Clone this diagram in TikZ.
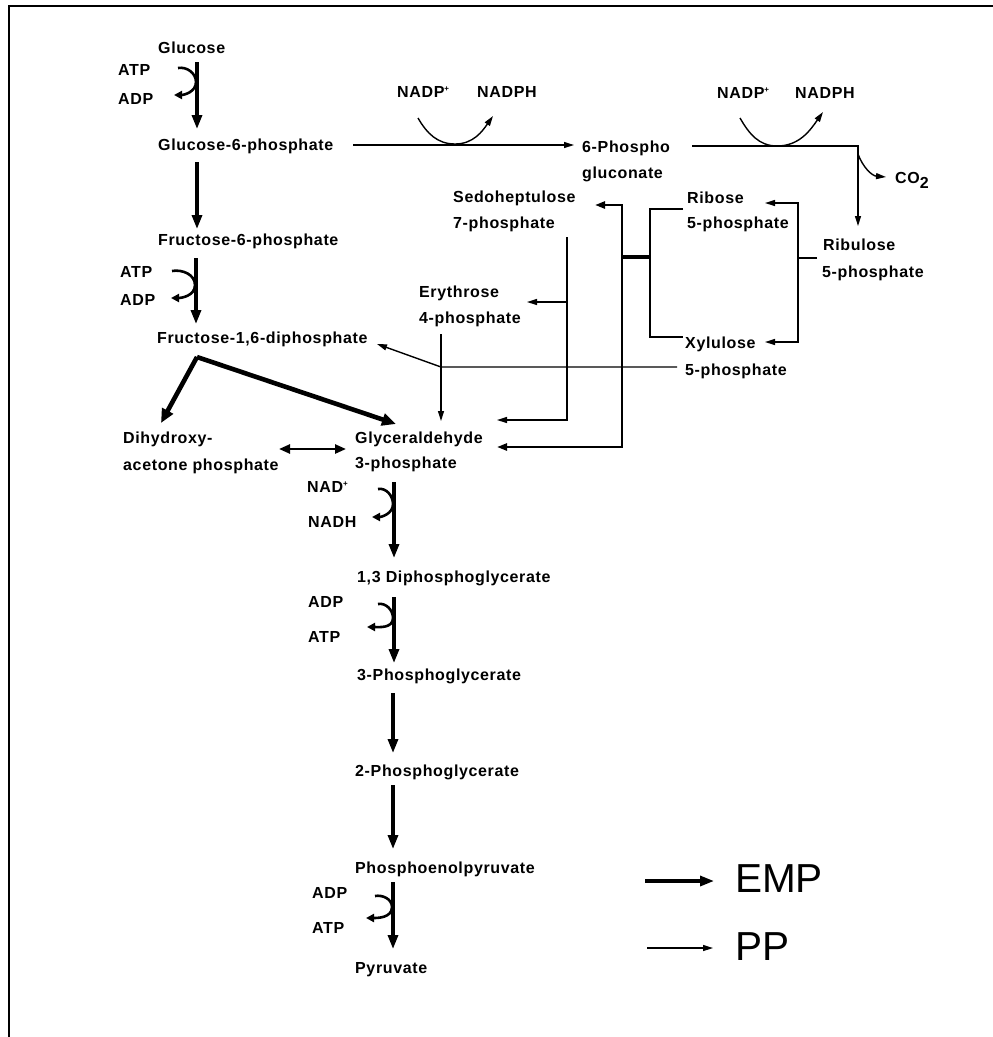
\documentclass[tikz,border=0pt]{standalone}
\usepackage{fontspec}
\setmainfont{Liberation Sans}[LetterSpace=4]
\newfontfamily\legendfont{Liberation Sans}
\usetikzlibrary{arrows.meta}
\newcommand\lblfont{\fontsize{16}{18}\selectfont\bfseries}
\newcommand\supplus{\raisebox{6pt}{\fontsize{8}{8}\selectfont +}}
\begin{document}
\begin{tikzpicture}[x=1pt,y=-1pt,
  lbl/.style={anchor=base west, inner sep=0pt, font=\lblfont},
  legend/.style={anchor=base west, inner sep=0pt, font=\legendfont\fontsize{40.5}{44}\selectfont},
  emp/.style={line width=3.2pt, -{Triangle[length=14pt,width=10pt]}},
  empdiag/.style={line width=4.6pt, -{Triangle[length=14pt,width=12pt]}},
  cof/.style={line width=2.6pt, -{Triangle[length=8pt,width=8pt]}},
  ppa/.style={line width=1.4pt, -{Triangle[length=10pt,width=6pt]}},
  ppl/.style={line width=1.4pt},
  ppthick/.style={line width=2.4pt, -{Triangle[length=10pt,width=7pt]}},
]
\useasboundingbox (0,0) rectangle (993,1037);
\draw[line width=2.2pt] (9,1037) -- (9,6) -- (993,6);

% ---------- labels ----------
\node[lbl] (glc) at (158,53.5) {Glucose};
\node[lbl] (atpA) at (118,75.5) {ATP};
\node[lbl] (adpA) at (118,104.5) {ADP};
\node[lbl] (g6p) at (158,150.5) {Glucose-6-phosphate};
\node[lbl] (f6p) at (158,245.5) {Fructose-6-phosphate};
\node[lbl] (atpB) at (120,277.5) {ATP};
\node[lbl] (adpB) at (120,305.5) {ADP};
\node[lbl] (f16) at (157,343.5) {Fructose-1,6-diphosphate};
\node[lbl] (dhap1) at (123,443.5) {Dihydroxy-};
\node[lbl] (dhap2) at (123,470.5) {acetone phosphate};
\node[lbl] (gap1) at (355,443.5) {Glyceraldehyde};
\node[lbl] (gap2) at (355,468.5) {3-phosphate};
\node[lbl] (nad) at (307,492.5) {NAD\supplus};
\node[lbl] (nadh) at (308,527.5) {NADH};
\node[lbl] (dpg) at (357,582.5) {1,3 Diphosphoglycerate};
\node[lbl] (adpD) at (308,607.5) {ADP};
\node[lbl] (atpD) at (308,642.5) {ATP};
\node[lbl] (pg3) at (357,680.5) {3-Phosphoglycerate};
\node[lbl] (pg2) at (355,776.5) {2-Phosphoglycerate};
\node[lbl] (pep) at (355,873.5) {Phosphoenolpyruvate};
\node[lbl] (adpE) at (312,898.5) {ADP};
\node[lbl] (atpE) at (312,933.5) {ATP};
\node[lbl] (pyr) at (355,973.5) {Pyruvate};
\node[lbl] (nadpA) at (397,97.5) {NADP\supplus};
\node[lbl] (nadphA) at (477,97.5) {NADPH};
\node[lbl] (pgl1) at (582,152.5) {6-Phospho};
\node[lbl] (pgl2) at (582,178.5) {gluconate};
\node[lbl] (nadpB) at (717,98.5) {NADP\supplus};
\node[lbl] (nadphB) at (795,98.5) {NADPH};
\node[lbl] (co2) at (895,183.5) {CO\raisebox{-5pt}{2}};
\node[lbl] (rib1) at (687,203.5) {Ribose};
\node[lbl] (rib2) at (687,228.5) {5-phosphate};
\node[lbl] (ribu1) at (823,250.5) {Ribulose};
\node[lbl] (ribu2) at (822,277.5) {5-phosphate};
\node[lbl] (xyl1) at (685,348.5) {Xylulose};
\node[lbl] (xyl2) at (685,375.5) {5-phosphate};
\node[lbl] (sed1) at (453,202.5) {Sedoheptulose};
\node[lbl] (sed2) at (453,228.5) {7-phosphate};
\node[lbl] (ery1) at (419,297.5) {Erythrose};
\node[lbl] (ery2) at (419,323.5) {4-phosphate};
\node[legend] (emp) at (735,892) {EMP};
\node[legend] (pp) at (735,960) {PP};

% ---------- coordinates ----------
\coordinate (a0) at (197,62);  \coordinate (a1) at (197,129);
\coordinate (a2) at (197,162); \coordinate (a3) at (197,229);
\coordinate (a4) at (196,258); \coordinate (a5) at (196,324);
\coordinate (apex) at (197,357);
\coordinate (dhapT) at (161,423); \coordinate (gapT) at (396,424);
\coordinate (dblL) at (279,449); \coordinate (dblR) at (346,449);
\coordinate (b0) at (394,482); \coordinate (b1) at (394,558);
\coordinate (b2) at (394,597); \coordinate (b3) at (394,663);
\coordinate (b4) at (393,693); \coordinate (b5) at (393,753);
\coordinate (b6) at (393,785); \coordinate (b7) at (393,849);
\coordinate (b8) at (393,882); \coordinate (b9) at (393,949);
% cofactor curves
\coordinate (cA1) at (178,68); \coordinate (cAm) at (196,82); \coordinate (cA2) at (174,95);
\coordinate (cB1) at (172,271); \coordinate (cBm) at (195,285); \coordinate (cB2) at (171,298);
\coordinate (cC1) at (378,489); \coordinate (cCm) at (393,504); \coordinate (cC2) at (372,517);
\coordinate (cD1) at (378,604); \coordinate (cDm) at (393,618); \coordinate (cD2) at (367,627);
\coordinate (cE1) at (375,896); \coordinate (cEm) at (392,907); \coordinate (cE2) at (366,918);
% NADP arcs
\coordinate (nA1) at (418,118); \coordinate (nAm) at (455,144); \coordinate (nA2) at (493,116);
\coordinate (nB1) at (740,118); \coordinate (nBm) at (777,146); \coordinate (nB2) at (823,112);
% PP routes
\coordinate (g6pR) at (353,145); \coordinate (pglT) at (574,145);
\coordinate (pglR) at (692,146); \coordinate (oxC) at (858,146); \coordinate (ribuT) at (858,226);
\coordinate (co2S) at (858,154); \coordinate (co2T) at (886,177);
\coordinate (ribuL) at (817,258); \coordinate (split) at (798,258);
\coordinate (ribT) at (765,203); \coordinate (xylT) at (765,342);
\coordinate (ribIn) at (683,209); \coordinate (brT) at (650,209);
\coordinate (brB) at (650,337); \coordinate (xylIn) at (683,337);
\coordinate (brM) at (650,257); \coordinate (tkM) at (622,257);
\coordinate (sedT) at (595,205); \coordinate (gapT2) at (497,447);
\coordinate (sedS) at (567,237); \coordinate (gapT1) at (497,420);
\coordinate (sedE) at (567,302); \coordinate (eryT) at (527,302);
\coordinate (eryS) at (441,334); \coordinate (eryG) at (441,421);
\coordinate (xylOut) at (677,367); \coordinate (junc) at (441,367);
\coordinate (f16T) at (377,344);
\coordinate (lgE1) at (645,881); \coordinate (lgE2) at (714,881);
\coordinate (lgP1) at (647,948); \coordinate (lgP2) at (713,948);

% ---------- EMP ----------
\draw[emp] (a0) -- (a1);
\draw[emp] (a2) -- (a3);
\draw[emp] (a4) -- (a5);
\draw[empdiag] (apex) -- (dhapT);
\draw[empdiag] (apex) -- (gapT);
\draw[line width=2.4pt, {Triangle[length=11pt,width=9pt]}-{Triangle[length=11pt,width=9pt]}] (dblL) -- (dblR);
\draw[emp] (b0) -- (b1);
\draw[emp] (b2) -- (b3);
\draw[emp] (b4) -- (b5);
\draw[emp] (b6) -- (b7);
\draw[emp] (b8) -- (b9);
\draw[cof] (cA1) to[out=10,in=90] (cAm) to[out=-90,in=0] (cA2);
\draw[cof] (cB1) to[out=10,in=90] (cBm) to[out=-90,in=0] (cB2);
\draw[cof] (cC1) to[out=10,in=90] (cCm) to[out=-90,in=0] (cC2);
\draw[cof] (cD1) to[out=10,in=90] (cDm) to[out=-90,in=0] (cD2);
\draw[cof] (cE1) to[out=10,in=90] (cEm) to[out=-90,in=0] (cE2);

% ---------- PP ----------
\draw[ppa] (g6pR) -- (pglT);
\draw[ppa] (nA1) to[out=-60,in=180] (nAm) to[out=0,in=-125] (nA2);
\draw[ppa] (pglR) -- (oxC) -- (ribuT);
\draw[ppa] (nB1) to[out=-60,in=180] (nBm) to[out=0,in=-125] (nB2);
\draw[ppa] (co2S) to[out=-70,in=175] (co2T);
\draw[ppl] (ribuL) -- (split);
\draw[ppa] (split) |- (ribT);
\draw[ppa] (split) |- (xylT);
\draw[ppl] (ribIn) -- (brT) -- (brB) -- (xylIn);
\draw[line width=4pt] (brM) -- (tkM);
\draw[ppthick] (tkM) |- (sedT);
\draw[ppthick] (tkM) |- (gapT2);
\draw[ppa] (sedS) |- (gapT1);
\draw[ppa] (sedE) -- (eryT);
\draw[ppa] (eryS) -- (eryG);
\draw[ppa] (xylOut) -- (junc) -- (f16T);

% ---------- legend ----------
\draw[emp] (lgE1) -- (lgE2);
\draw[ppa] (lgP1) -- (lgP2);
\end{tikzpicture}
\end{document}
